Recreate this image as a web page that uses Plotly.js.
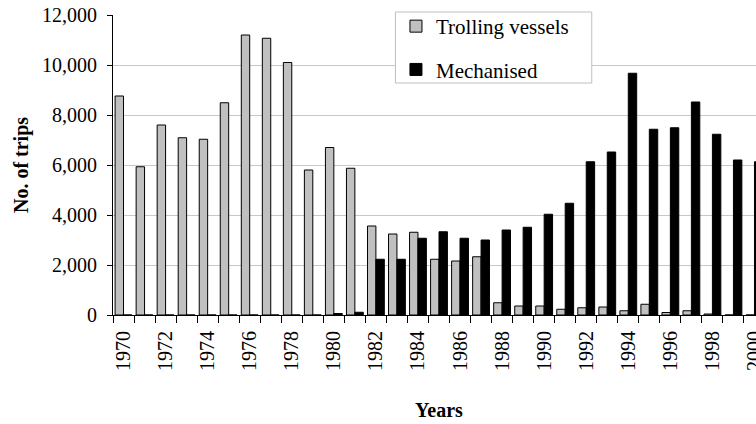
<!DOCTYPE html>
<html>
<head>
<meta charset="utf-8">
<script src="https://cdn.plot.ly/plotly-3.0.1.min.js"></script>
<style>html,body{margin:0;padding:0;background:#fff;overflow:hidden}#chart{width:765px;height:424px}</style>
</head>
<body>
<div id="chart"></div>
<script>
var years = ["1970","1971","1972","1973","1974","1975","1976","1977","1978","1979",
             "1980","1981","1982","1983","1984","1985","1986","1987","1988","1989",
             "1990","1991","1992","1993","1994","1995","1996","1997","1998","1999","2000"];
var trolling = [8760,5930,7600,7090,7030,8490,11200,11070,10100,5800,
                6700,5870,3560,3240,3310,2230,2160,2330,490,360,
                360,230,290,320,170,430,100,170,40,0,0];
var mechanised = [0,0,0,0,0,0,0,0,0,0,
                  60,110,2230,2230,3070,3330,3070,3000,3400,3510,
                  4030,4470,6130,6520,9670,7430,7490,8520,7230,6200,6130];
var tickLabels = years.map(function(y){ return (parseInt(y) % 2 === 0) ? y : ""; });

var serif = "'Liberation Serif', 'Times New Roman', serif";

var traces = [
  {type:"bar", name:"Trolling vessels", x:years, y:trolling, legendgroup:"a",
   marker:{color:"#c0c0c0", line:{color:"#000", width:1}}},
  {type:"bar", name:"Mechanised", x:years, y:mechanised, legendgroup:"b",
   marker:{color:"#000", line:{color:"#000", width:1}}}
];

var layout = {
  width:765, height:424,
  margin:{l:113, r:0, t:15, b:109},
  paper_bgcolor:"#fff", plot_bgcolor:"#fff",
  barmode:"group", bargap:0.2, bargroupgap:0,
  font:{family:serif, color:"#000", size:20},
  showlegend:true,
  legend:{x:0.434, y:1.03, xanchor:"left", yanchor:"top",
          bgcolor:"rgba(0,0,0,0)", borderwidth:0,
          font:{family:serif, size:21, color:"#000"},
          traceorder:"grouped", tracegroupgap:13},
  shapes:[{type:"rect", xref:"paper", yref:"paper", layer:"above",
           x0:0.4332, x1:0.7343, y0:0.7733, y1:1.01,
           fillcolor:"#fff", line:{color:"#bfbfbf", width:1}}],
  xaxis:{type:"category", range:[-0.5, 30.5],
         tickmode:"array", tickvals:years, ticktext:tickLabels,
         tickson:"boundaries", ticks:"outside", ticklen:7, tickcolor:"#000",
         tickangle:-90, ticklabelstandoff:7,
         tickfont:{family:serif, size:20, color:"#000"},
         showline:true, linecolor:"#000", linewidth:1, showgrid:false,
         title:{text:"<b>Years</b>", font:{family:serif, size:20, color:"#000"}, standoff:32}},
  yaxis:{range:[0,12000], dtick:2000, tickformat:",d",
         ticks:"outside", ticklen:5, tickcolor:"#000", ticklabelstandoff:6,
         tickfont:{family:serif, size:20, color:"#000"},
         showline:true, linecolor:"#000", linewidth:1,
         showgrid:true, gridcolor:"#c8c8c8", gridwidth:1, zeroline:false,
         title:{text:"<b>No. of trips</b>", font:{family:serif, size:20, color:"#000"}, standoff:8}}
};

Plotly.newPlot("chart", traces, layout, {displayModeBar:false, staticPlot:true});
</script>
</body>
</html>
